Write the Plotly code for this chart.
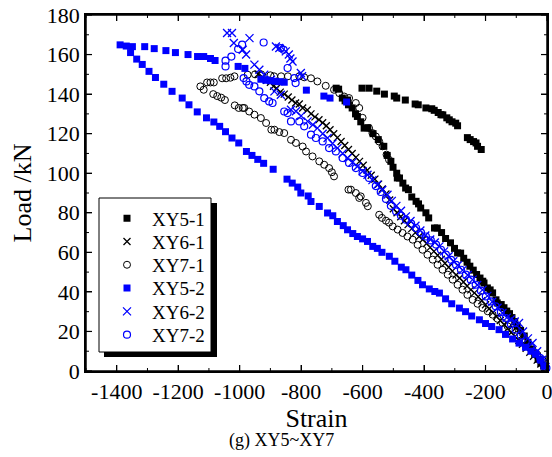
import json
import plotly.graph_objects as go

# ---------------- data ----------------
XY5_1 = [(-602,143),(-579,143),(-554,141.5),(-529,140),(-497,139),(-489,138),(-461,137),(-429,135),
         (-419,134.6),(-394,133),(-375,132.6),(-367,131.8),(-354,130.7),(-345,129.6),(-339,129.5),(-326,128),
         (-318,127),(-309,126),(-297,125.3),(-291,124),(-259,118),(-250,117),(-239,116),(-231,115.3),
         (-226,113.6),(-214,112),
         (-686,143),(-678,142.5),(-666,138),(-657,136.6),(-649,137),(-646,134.6),(-634,133),(-623,130),
         (-617,128.7),(-606,126),(-595,122.8),(-583,123),(-566,120),(-549,117),(-531,113.6),(-520,109),
         (-508,106),(-501,103),(-489,100),(-487,97.6),(-480,97.6),(-469,95),(-460,92.5),(-451,91.7),
         (-440,88),(-426,85.8),(-418,84.5),(-411,82.4),(-394,80),(-385,77.4),(-366,72.3),(-357,72.3),
         (-343,70),(-330,67),(-314,64.8),(-301,62),(-291,59.7),(-281,59.6),(-271,57),(-260,55),
         (-251,53),(-240,51),(-229,48.8),(-218,47),(-209,45.4),(-205,44.5),(-194,42),(-185,41),
         (-177,39.5),(-166,36),(-162,34.4),(-149,33.6),(-140,32),(-131,30.3),(-122,29),(-114,27),
         (-105,25),(-97,22.7),(-86,20.5),(-74,17.7),(-62,14.5),(-51,11),(-40,8.5),(-29,5.9),(-20,4),(-11,2.5)]

XY6_1 = [(-940,150),(-925,148.5),(-912,147),(-900,146),(-890,144),(-880,143),(-868,141),(-855,140),
         (-842,138.5),(-830,137),(-818,135.5),(-806,135),(-795,133),(-780,132),(-768,130),(-755,128.5),
         (-742,127),(-730,125.5),(-718,124),(-706,122),(-694,120),(-682,118),(-670,116),(-658,114),
         (-646,112),(-634,110),(-622,108),(-610,106),(-598,104),(-585,101.5),(-572,99),(-560,97),
         (-548,94.5),(-536,92),(-524,89.5),(-512,86.5),(-500,82),(-488,80),(-476,78),(-464,76),
         (-452,74),(-440,72),(-428,70),(-416,68),(-404,66.5),(-392,64.5),(-380,62.5),(-368,60.5),
         (-356,58.5),(-344,56.5),(-332,54.5),(-320,52.5),(-308,50.5),(-296,48.5),(-284,47),(-272,45),
         (-260,43),(-248,41),(-236,39.5),(-224,37.5),(-212,35.5),(-200,33.5),(-188,31.5),(-176,29.5),
         (-164,27.5),(-152,25.5),(-140,23.5),(-128,21.5),(-116,19.5),(-104,17.5),(-92,15.5),(-80,13.5),
         (-68,11.5),(-56,9.5),(-44,7.5),(-32,5.5),(-20,3.5),(-8,1.5)]

XY7_1 = [(-1128,143.9),(-1117,142.2),(-1106,145.9),(-1095,145.9),(-1084,145.9),(-1057,148),(-1044,148),
         (-1030,148.3),(-1017,149),(-974,149.8),(-950,150),(-930,150),(-900,149.5),(-888,149),(-865,149),
         (-843,149),(-806,149),(-790,148.5),(-768,148),(-747,146.4),(-720,144.2),(-693,142.2),(-676,140.5),
         (-660,138.8),(-644,138),(-622,135.5),(-611,133),(-600,128),(-579,122.8),(-568,120.3),(-557,118.6),
         (-546,116),(-535,113.6),(-522,109.4),(-514,106.8),
         (-1086,140),(-1073,139),(-1060,138.2),(-1048,137),(-1016,134.3),(-1003,133),(-990,133),(-985,133),
         (-969,131.2),(-952,129.6),(-931,127.9),(-914,125.4),(-897,122),(-887,122),(-871,120.8),(-855,120.3),
         (-833,116.9),(-817,115.3),(-795,113.5),(-784,111),(-763,108.5),(-741,106),(-725,104.3),(-709,102.6),
         (-700,100.5),(-693,98.4),
         (-646,91.7),(-638,91.7),(-622,90),(-611,87.5),(-606,88.3),(-589,85),(-583,83.3),
         (-546,79),(-537,77.4),(-524,76),(-514,75),(-502,73.1),(-486,71.5),(-470,69.8),(-454,68),
         (-437,66.4),(-421,63.8),(-405,61.3),(-389,58.8),(-372,56.3),(-356,53.7),(-340,51.2),(-323,48.7),
         (-307,46.2),(-291,43.6),(-275,41.1),(-259,38.5),(-242,36),(-226,34),(-210,31.9),(-193,30.2),
         (-177,28.5),(-161,26.4),(-145,24.3),(-128,22.6),(-112,20.9),(-96,18.3),(-80,15.8),(-63,13.3),
         (-47,10.8),(-31,8.2),(-15,5.7)]

XY5_2 = [(-1389,164.9),(-1369,164.3),(-1349,164),(-1309,164),(-1278,163),(-1240,162),(-1209,161),
         (-1168,160),(-1137,159),(-1117,159),(-1095,158),(-1080,157),(-1005,154),(-983,153),(-931,147.5),
         (-915,147),(-900,146.8),(-885,146.5),(-870,146.3),(-855,146),(-783,142),(-726,139),(-706,138),
         (-652,136),
         (-1355,161),(-1335,157.7),(-1317,155),(-1295,151.5),(-1274,148.4),(-1247,145),(-1220,141.4),
         (-1187,138),(-1165,134.6),(-1138,131),(-1108,128),(-1084,125.9),(-1065,123.7),(-1046,121),
         (-1025,117.8),(-1003,115.3),(-978,111),(-960,109),(-941,107),(-922,105),(-891,102),(-846,97),
         (-829,95),(-811,93),(-801,90),(-777,88.5),(-768,85.7),(-741,83.2),(-714,79.9),(-697,78.5),
         (-682,75.6),(-663,73.5),(-649,71.4),(-632,69.5),(-617,68),(-600,66.8),(-584,65.5),(-567,63),
         (-552,62),(-537,60),(-513,58),(-495,55.5),(-474,52.5),(-459,51.2),(-440,48.5),(-420,45.8),
         (-405,43.6),(-383,41.5),(-365,40.2),(-350,39.4),(-330,36.5),(-310,34),(-285,31.8),(-265,30),
         (-245,27.8),(-220,25.9),(-200,24),(-180,22.5),(-156,20.9),(-135,18.5),(-112,16.2),(-91,14.1),
         (-70,12),(-52,10),(-37,8.5),(-22,5.7),(-10,2.5)]

XY6_2 = [(-1041,170.9),(-1025,170.9),(-1019,165.8),(-968,168.3),(-990,162.4),(-979,160),(-952,154.9),
         (-936,152.3),(-920,149.8),(-898,147.3),(-882,164.1),(-871,163.3),(-850,161.6),(-840,160),
         (-835,158),(-828,156.5),(-801,150.7),(-797,149),(-887,141.4),(-866,139.7),(-833,132.1),
         (-817,131.3),(-800,129),(-779,126.2),(-762,124.5),(-747,122.8),(-730,120),(-714,117.8),
         (-698,115),(-682,112.7),(-665,110),(-649,107.7),(-633,105.5),(-617,103.4),(-600,101),(-584,99.2),
         (-568,96.5),(-552,94.2),(-536,91.5),(-519,89.1),(-505,86),(-490,83.5),(-475,81),(-459,78.2),
         (-444,75.8),(-428,73.4),(-412,71),(-396,68.5),(-380,66.5),(-365,65),(-350,63),(-335,60.5),
         (-320,58),(-305,55.5),(-290,53.5),(-275,51),(-258,48.5),(-242,46.2),(-227,43.5),(-210,41),
         (-194,38),(-178,35),(-161,32),(-145,29.3),(-131,27),(-118,26),(-105,25),(-91,24.3),(-78,20),
         (-62,16.5),(-47,14.2),(-32,10),(-15,5.7),(-5,2)]

XY7_2 = [(-1046,156.9),(-1046,154),(-1027,159),(-1005,162.8),(-992,165),(-922,166.1),(-866,163.3),
         (-857,162.4),(-844,153.2),(-822,148.1),(-818,145.6),(-987,148.1),(-978,146.4),(-969,144.7),
         (-952,143.9),(-936,141.4),(-920,138),(-904,136.3),(-893,135.5),(-855,131.2),(-844,130.4),
         (-833,126.2),(-806,126.2),(-790,123.7),(-768,119.5),(-752,117.8),(-730,116.1),(-709,112.7),
         (-687,111),(-665,107.7),(-644,105.2),(-622,102.6),(-600,100.1),(-579,97.6),(-557,93.5),
         (-541,90.5),(-524,87),(-508,83.5),(-491,80.7),(-475,78.5),(-459,76.5),(-442,74.5),(-426,72.3),
         (-410,70),(-394,68),(-378,66),(-361,63.9),(-345,61.3),(-329,58.8),(-312,56.2),(-296,53.7),
         (-280,51.2),(-264,48.7),(-248,46.2),(-232,43.6),(-215,40.6),(-199,37.7),(-183,35.2),(-167,32.7),
         (-150,29.8),(-134,26.8),(-118,23.8),(-102,20.9),(-85,18),(-69,15),(-53,12),(-37,9.1),(-22,6.5),
         (-9,4),(-2,1.5)]

SERIES_NAMES = ["XY5-1", "XY6-1", "XY7-1", "XY5-2", "XY6-2", "XY7-2"]
X_TICKS = [-1400, -1200, -1000, -800, -600, -400, -200, 0]
X_MINOR = [-1500, -1300, -1100, -900, -700, -500, -300, -100]
Y_TICKS = [0, 20, 40, 60, 80, 100, 120, 140, 160, 180]
Y_MINOR = [10, 30, 50, 70, 90, 110, 130, 150, 170]
X_TITLE = "Strain"
Y_TITLE = "Load /kN"
CAPTION = "(g) XY5~XY7"

# ---------------- styling ----------------
FONT = "Liberation Serif, Times New Roman, serif"
BLUE = "#0000FF"
styles = [
    dict(symbol="square", color="black", size=7, line=dict(width=0)),
    dict(symbol="x-thin-open", color="black", size=7, line=dict(width=1.3, color="black")),
    dict(symbol="circle-open", color="black", size=7, line=dict(width=1, color="black")),
    dict(symbol="square", color=BLUE, size=7, line=dict(width=0)),
    dict(symbol="x-thin-open", color=BLUE, size=8, line=dict(width=1.3, color=BLUE)),
    dict(symbol="circle-open", color=BLUE, size=7, line=dict(width=1.2, color=BLUE)),
]

L, R, T, B = 86, 5, 15, 86
W, H = 552, 457
pw, ph = W - L - R, H - T - B

def px2paper(xp, yp):
    return (xp - L) / pw, (H - B - yp) / ph

fig = go.Figure()
legend_ids = ["legend", "legend2", "legend3", "legend4", "legend5", "legend6"]
for name, data, st, lid in zip(SERIES_NAMES, [XY5_1, XY6_1, XY7_1, XY5_2, XY6_2, XY7_2], styles, legend_ids):
    fig.add_trace(go.Scatter(
        x=[p[0] for p in data], y=[p[1] for p in data],
        mode="markers", name=name, marker=st, cliponaxis=False, legend=lid,
    ))

axis_common = dict(
    showline=True, linecolor="black", linewidth=1.5, mirror="ticks",
    ticks="inside", ticklen=6, tickwidth=1.2, tickcolor="black",
    showgrid=False, zeroline=False, ticklabeloverflow="allow",
    tickfont=dict(family=FONT, size=22, color="black"),
)

fig.update_xaxes(
    range=[-1500, 0], tickmode="array", tickvals=X_TICKS, ticktext=[str(v) for v in X_TICKS],
    title=dict(text=X_TITLE, font=dict(family=FONT, size=26, color="black"), standoff=0),
    **axis_common,
)
fig.update_yaxes(
    range=[0, 180], tickmode="array", tickvals=Y_TICKS, ticktext=[str(v) for v in Y_TICKS],
    title=dict(text=Y_TITLE, font=dict(family=FONT, size=26, color="black"), standoff=8),
    **axis_common,
)

bx0, by1 = px2paper(99, 198)
bx1, by0 = px2paper(211, 352)
sx0, sy1 = px2paper(104, 203)
sx1, sy0 = px2paper(217, 357)
cx, cy = px2paper(281, 440)

legend_shapes = [
    dict(type="rect", xref="paper", yref="paper", x0=sx0, y0=sy0, x1=sx1, y1=sy1,
         fillcolor="black", line=dict(width=0), layer="above"),
    dict(type="rect", xref="paper", yref="paper", x0=bx0, y0=by0, x1=bx1, y1=by1,
         fillcolor="white", line=dict(width=1, color="black"), layer="above"),
]

row_y = [218.3, 241.6, 264.9, 288.2, 311.5, 334.8]
legends = {}
for lid, ry in zip(legend_ids, row_y):
    lxp, lyp = px2paper(102, ry)
    legends[lid] = dict(
        x=lxp, y=lyp, xanchor="left", yanchor="middle",
        bgcolor="rgba(0,0,0,0)", borderwidth=0, itemwidth=40,
        font=dict(family=FONT, size=19, color="black"),
        itemsizing="trace",
    )

fig.update_layout(
    template="none",
    width=W, height=H,
    margin=dict(l=L, r=R, t=T, b=B, autoexpand=False),
    paper_bgcolor="white", plot_bgcolor="white",
    font=dict(family=FONT, color="black"),
    showlegend=True,
    shapes=legend_shapes,
    annotations=[dict(text=CAPTION, xref="paper", yref="paper", x=cx, y=cy,
                      xanchor="center", yanchor="middle", showarrow=False,
                      font=dict(family=FONT, size=18, color="black"))],
    **legends,
)

# frame + inside ticks re-stroked on the top SVG layer, positioned with the axes' own scales
js = (
    "document.body.style.margin='0';document.body.style.overflow='hidden';"
    "try{"
    "var gd=document.getElementById('{plot_id}');"
    "var fl=gd._fullLayout,xa=fl.xaxis,ya=fl.yaxis;"
    "var svgs=gd.querySelectorAll('svg.main-svg');var svg=svgs[svgs.length-1];"
    "var ns='http://www.w3.org/2000/svg';var g=document.createElementNS(ns,'g');"
    "function ln(a,b,c,d,w){var e=document.createElementNS(ns,'line');"
    "e.setAttribute('x1',a);e.setAttribute('y1',b);e.setAttribute('x2',c);e.setAttribute('y2',d);"
    "e.setAttribute('stroke','#000');e.setAttribute('stroke-width',w);g.appendChild(e);}"
    "var Lp=xa._offset,Rp=xa._offset+xa._length,Tp=ya._offset,Bp=ya._offset+ya._length;"
    "ln(Lp-0.75,Bp,Rp+0.75,Bp,1.5);ln(Lp-0.75,Tp,Rp+0.75,Tp,1.5);ln(Lp,Tp,Lp,Bp,1.5);ln(Rp,Tp,Rp,Bp,1.5);"
    "var XT=" + json.dumps(X_TICKS) + ",XM=" + json.dumps(X_MINOR) + ","
    "YT=" + json.dumps(Y_TICKS) + ",YM=" + json.dumps(Y_MINOR) + ";"
    "XT.forEach(function(v){var p=Lp+xa.l2p(v);ln(p,Bp,p,Bp-6,1.2);ln(p,Tp,p,Tp+6,1.2);});"
    "XM.forEach(function(v){var p=Lp+xa.l2p(v);ln(p,Bp,p,Bp-3,1);ln(p,Tp,p,Tp+3,1);});"
    "YT.forEach(function(v){var p=Tp+ya.l2p(v);ln(Lp,p,Lp+6,p,1.2);ln(Rp,p,Rp-6,p,1.2);});"
    "YM.forEach(function(v){var p=Tp+ya.l2p(v);ln(Lp,p,Lp+3,p,1);ln(Rp,p,Rp-3,p,1);});"
    "svg.appendChild(g);"
    "}catch(err){}"
)

fig.write_html("out.html", config={"displayModeBar": False}, post_script=js)
